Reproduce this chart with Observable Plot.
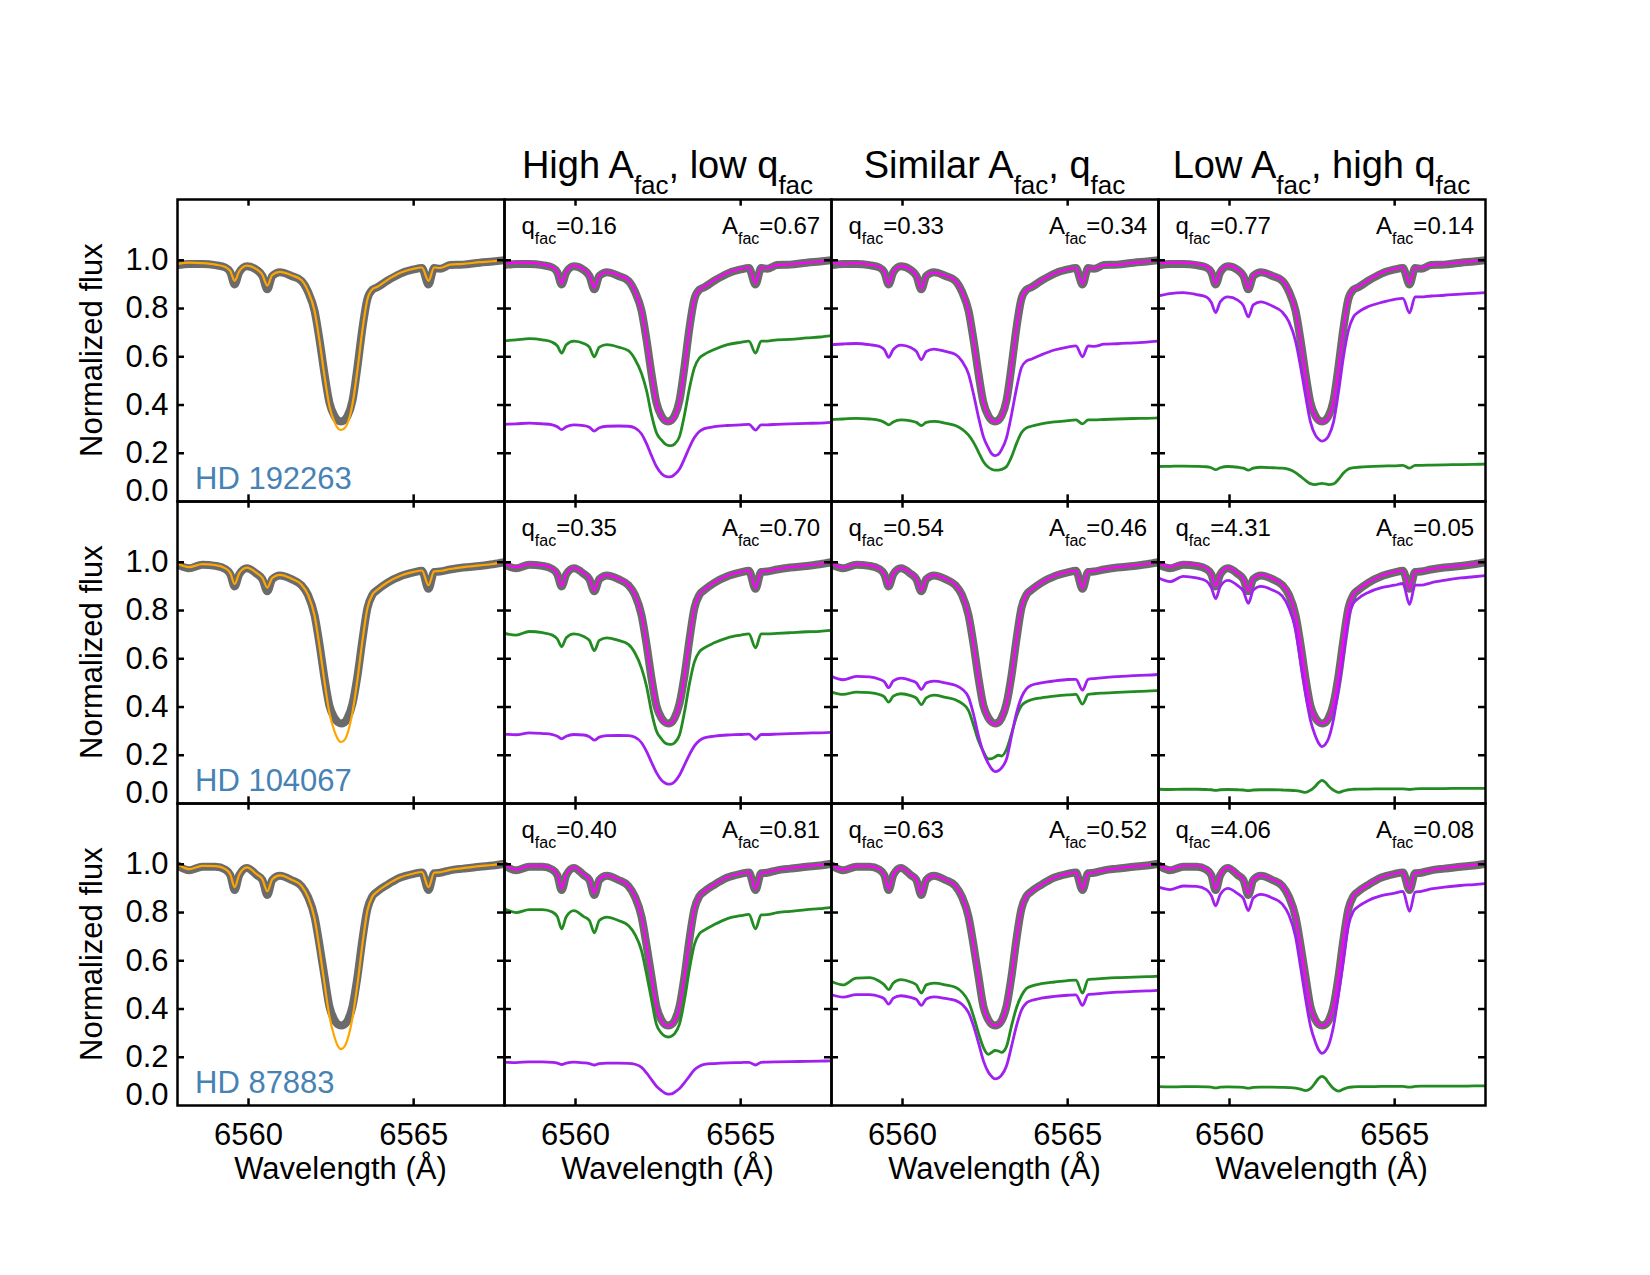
<!DOCTYPE html>
<html>
<head>
<meta charset="utf-8">
<script src="https://cdn.jsdelivr.net/npm/d3@7"></script>
<script src="https://cdn.jsdelivr.net/npm/@observablehq/plot@0.6"></script>
<style>
  html, body { margin: 0; padding: 0; background: #fff; }
  svg { display: block; }
</style>
</head>
<body>
<div id="chart"></div>
<script>
// Wavelength grid (Å) shared by every spectrum around H-alpha
const wavelength = [6557.85, 6558.2, 6558.6, 6559.0, 6559.3, 6559.45, 6559.58, 6559.72, 6559.95, 6560.25,
  6560.42, 6560.57, 6560.72, 6560.95, 6561.3, 6561.6, 6561.8, 6562.0, 6562.15, 6562.3,
  6562.45, 6562.6, 6562.7, 6562.8, 6562.9, 6563.0, 6563.15, 6563.3, 6563.45, 6563.6,
  6563.75, 6563.9, 6564.2, 6564.6, 6565.0, 6565.25, 6565.45, 6565.62, 6565.8, 6566.1,
  6566.5, 6567.0, 6567.4, 6567.75];

const stars = ["HD 192263", "HD 104067", "HD 87883"];
const panels = ["fit", "high", "similar", "low"];

// Column headings, as [text, subscript?] pieces
const titleHigh = [["High A", 0], ["fac", 1], [", low q", 0], ["fac", 1]];
const titleSimilar = [["Similar A", 0], ["fac", 1], [", q", 0], ["fac", 1]];
const titleLow = [["Low A", 0], ["fac", 1], [", high q", 0], ["fac", 1]];

// Fitted facular parameters per star for the high / similar / low columns
const qfac192263 = [0.16, 0.33, 0.77];
const afac192263 = [0.67, 0.34, 0.14];
const qfac104067 = [0.35, 0.54, 4.31];
const afac104067 = [0.70, 0.46, 0.05];
const qfac87883 = [0.40, 0.63, 4.06];
const afac87883 = [0.81, 0.52, 0.08];

const xTicks = [6560, 6565];
const yTicks = [0.2, 0.4, 0.6, 0.8, 1.0];

// ---- HD 192263 ----
const obs192263 = [0.980,0.985,0.985,0.980,0.970,0.950,0.900,0.950,0.975,0.960,0.935,0.880,0.935,0.950,0.935,0.915,0.870,0.790,0.670,0.530,0.410,0.355,0.337,0.332,0.337,0.355,0.420,0.560,0.720,0.840,0.878,0.888,0.915,0.945,0.962,0.968,0.900,0.968,0.965,0.980,0.982,0.990,0.995,1.000];
const fit192263 = [0.985,0.990,0.988,0.982,0.972,0.955,0.915,0.955,0.978,0.962,0.940,0.895,0.940,0.952,0.938,0.918,0.872,0.790,0.665,0.520,0.395,0.330,0.305,0.297,0.303,0.325,0.405,0.548,0.712,0.838,0.880,0.890,0.918,0.948,0.965,0.970,0.915,0.970,0.968,0.982,0.985,0.992,0.996,1.002];
const total192263High = [0.985,0.990,0.990,0.983,0.972,0.953,0.905,0.953,0.978,0.962,0.938,0.885,0.938,0.952,0.938,0.918,0.872,0.790,0.668,0.528,0.410,0.352,0.335,0.330,0.333,0.350,0.415,0.555,0.718,0.838,0.878,0.890,0.918,0.948,0.965,0.970,0.905,0.970,0.968,0.980,0.983,0.990,0.995,1.002];
const fac192263High = [0.667,0.670,0.675,0.670,0.660,0.645,0.615,0.650,0.665,0.655,0.640,0.600,0.640,0.650,0.640,0.625,0.590,0.530,0.460,0.360,0.285,0.255,0.240,0.233,0.232,0.238,0.270,0.360,0.470,0.555,0.595,0.610,0.630,0.650,0.660,0.665,0.615,0.665,0.665,0.670,0.672,0.678,0.682,0.688];
const quiet192263High = [0.320,0.322,0.325,0.322,0.318,0.310,0.298,0.310,0.318,0.315,0.308,0.292,0.306,0.312,0.313,0.312,0.305,0.280,0.240,0.190,0.145,0.116,0.106,0.102,0.103,0.112,0.135,0.178,0.225,0.265,0.290,0.302,0.310,0.315,0.318,0.320,0.296,0.318,0.318,0.320,0.322,0.324,0.325,0.328];
const total192263Similar = [0.990,0.985,0.988,0.982,0.972,0.952,0.902,0.952,0.976,0.960,0.936,0.882,0.936,0.950,0.936,0.916,0.870,0.788,0.668,0.530,0.412,0.355,0.336,0.330,0.334,0.352,0.418,0.558,0.720,0.840,0.878,0.888,0.916,0.946,0.963,0.968,0.902,0.968,0.966,0.980,0.982,0.990,0.995,1.000];
const fac192263Similar = [0.340,0.342,0.345,0.342,0.336,0.328,0.318,0.330,0.338,0.334,0.328,0.315,0.328,0.332,0.325,0.315,0.300,0.275,0.245,0.205,0.165,0.142,0.134,0.130,0.130,0.133,0.145,0.185,0.240,0.285,0.305,0.312,0.322,0.330,0.335,0.338,0.322,0.338,0.338,0.340,0.342,0.344,0.345,0.347];
const quiet192263Similar = [0.650,0.653,0.655,0.650,0.643,0.630,0.598,0.630,0.648,0.638,0.622,0.588,0.622,0.632,0.622,0.610,0.582,0.528,0.445,0.350,0.268,0.222,0.198,0.190,0.195,0.215,0.265,0.360,0.468,0.555,0.582,0.590,0.608,0.628,0.640,0.645,0.600,0.645,0.643,0.652,0.654,0.658,0.661,0.665];
const total192263Low = [0.988,0.990,0.990,0.985,0.975,0.952,0.902,0.955,0.978,0.962,0.938,0.882,0.938,0.952,0.938,0.918,0.872,0.790,0.668,0.528,0.408,0.350,0.334,0.328,0.332,0.350,0.415,0.555,0.718,0.840,0.880,0.890,0.918,0.948,0.965,0.970,0.905,0.970,0.968,0.982,0.985,0.992,0.996,1.002];
const fac192263Low = [0.145,0.146,0.147,0.146,0.144,0.140,0.132,0.140,0.145,0.142,0.138,0.130,0.138,0.142,0.140,0.138,0.133,0.120,0.104,0.088,0.074,0.070,0.073,0.075,0.073,0.070,0.073,0.092,0.118,0.135,0.140,0.142,0.145,0.147,0.148,0.150,0.138,0.150,0.150,0.151,0.152,0.153,0.154,0.155];
const quiet192263Low = [0.852,0.862,0.866,0.858,0.848,0.825,0.783,0.828,0.848,0.835,0.812,0.765,0.815,0.828,0.810,0.785,0.745,0.665,0.560,0.440,0.330,0.275,0.258,0.250,0.255,0.272,0.330,0.455,0.600,0.710,0.765,0.785,0.808,0.825,0.838,0.842,0.782,0.848,0.848,0.852,0.855,0.860,0.863,0.866];

// ---- HD 104067 ----
const obs104067 = [0.990,0.975,0.990,0.985,0.972,0.950,0.900,0.950,0.975,0.952,0.930,0.880,0.930,0.945,0.930,0.905,0.865,0.780,0.660,0.520,0.405,0.355,0.338,0.332,0.336,0.355,0.415,0.530,0.680,0.810,0.865,0.885,0.915,0.942,0.958,0.965,0.890,0.960,0.962,0.970,0.978,0.985,0.992,1.000];
const fit104067 = [0.995,0.980,0.992,0.988,0.975,0.955,0.910,0.955,0.978,0.955,0.935,0.895,0.935,0.948,0.932,0.908,0.866,0.778,0.650,0.505,0.375,0.300,0.268,0.255,0.262,0.292,0.380,0.515,0.675,0.810,0.866,0.886,0.916,0.944,0.960,0.966,0.905,0.962,0.964,0.972,0.980,0.987,0.993,1.002];
const total104067High = [0.993,0.980,0.992,0.988,0.975,0.952,0.903,0.952,0.977,0.955,0.933,0.883,0.933,0.947,0.932,0.907,0.866,0.780,0.660,0.522,0.405,0.352,0.335,0.330,0.334,0.352,0.412,0.528,0.680,0.810,0.866,0.886,0.916,0.944,0.960,0.966,0.893,0.962,0.964,0.972,0.980,0.987,0.993,1.002];
const fac104067High = [0.705,0.698,0.713,0.708,0.698,0.682,0.650,0.687,0.703,0.692,0.676,0.634,0.676,0.687,0.676,0.660,0.624,0.560,0.486,0.380,0.301,0.268,0.252,0.246,0.245,0.252,0.285,0.380,0.497,0.587,0.629,0.645,0.666,0.687,0.698,0.703,0.645,0.703,0.703,0.705,0.708,0.712,0.714,0.718];
const quiet104067High = [0.288,0.285,0.293,0.290,0.286,0.279,0.268,0.279,0.286,0.284,0.277,0.263,0.275,0.281,0.282,0.281,0.275,0.252,0.216,0.171,0.128,0.097,0.086,0.080,0.081,0.090,0.118,0.160,0.203,0.239,0.261,0.272,0.279,0.284,0.286,0.288,0.266,0.286,0.286,0.288,0.290,0.292,0.293,0.295];
const total104067Similar = [0.995,0.978,0.992,0.988,0.974,0.950,0.902,0.952,0.976,0.954,0.932,0.882,0.932,0.947,0.932,0.906,0.866,0.780,0.662,0.522,0.406,0.352,0.334,0.328,0.333,0.352,0.412,0.528,0.680,0.810,0.866,0.886,0.916,0.944,0.960,0.966,0.892,0.962,0.964,0.972,0.980,0.987,0.993,1.002];
const fac104067Similar = [0.462,0.452,0.462,0.460,0.452,0.442,0.420,0.445,0.455,0.447,0.437,0.410,0.438,0.449,0.440,0.430,0.415,0.385,0.325,0.260,0.215,0.185,0.186,0.193,0.200,0.197,0.225,0.290,0.360,0.405,0.422,0.430,0.438,0.445,0.450,0.452,0.412,0.452,0.455,0.458,0.461,0.464,0.466,0.468];
const quiet104067Similar = [0.527,0.513,0.527,0.525,0.515,0.505,0.480,0.508,0.520,0.510,0.500,0.473,0.500,0.507,0.500,0.490,0.475,0.440,0.370,0.280,0.210,0.165,0.143,0.132,0.136,0.148,0.185,0.280,0.375,0.440,0.475,0.490,0.500,0.508,0.514,0.515,0.470,0.515,0.518,0.522,0.526,0.530,0.532,0.535];
const total104067Low = [0.998,0.982,0.995,0.990,0.976,0.952,0.902,0.953,0.978,0.955,0.933,0.882,0.934,0.948,0.933,0.907,0.867,0.781,0.661,0.522,0.405,0.352,0.336,0.333,0.336,0.353,0.412,0.528,0.680,0.812,0.867,0.887,0.916,0.944,0.960,0.966,0.892,0.962,0.964,0.972,0.980,0.987,0.993,1.002];
const fac104067Low = [0.059,0.058,0.059,0.059,0.058,0.057,0.054,0.057,0.058,0.057,0.056,0.053,0.056,0.057,0.057,0.056,0.055,0.053,0.050,0.046,0.055,0.072,0.087,0.096,0.088,0.072,0.055,0.046,0.052,0.057,0.059,0.060,0.060,0.061,0.061,0.061,0.058,0.061,0.062,0.062,0.062,0.063,0.063,0.063];
const quiet104067Low = [0.935,0.920,0.942,0.935,0.922,0.895,0.849,0.900,0.925,0.903,0.880,0.830,0.885,0.900,0.885,0.860,0.810,0.720,0.590,0.460,0.345,0.280,0.250,0.236,0.245,0.270,0.350,0.480,0.620,0.770,0.830,0.850,0.875,0.895,0.905,0.912,0.825,0.905,0.905,0.915,0.925,0.935,0.940,0.945];

// ---- HD 87883 ----
const obs87883 = [0.995,0.975,0.990,0.990,0.978,0.955,0.893,0.955,0.985,0.955,0.935,0.873,0.935,0.952,0.935,0.910,0.865,0.782,0.665,0.535,0.410,0.355,0.337,0.332,0.336,0.352,0.412,0.535,0.690,0.815,0.868,0.887,0.915,0.945,0.960,0.966,0.893,0.963,0.965,0.975,0.982,0.990,0.995,1.002];
const fit87883 = [1.000,0.980,0.993,0.992,0.980,0.958,0.905,0.958,0.987,0.958,0.938,0.888,0.938,0.954,0.936,0.911,0.864,0.775,0.648,0.505,0.370,0.285,0.248,0.234,0.243,0.275,0.365,0.505,0.670,0.808,0.866,0.887,0.916,0.946,0.962,0.968,0.905,0.965,0.967,0.977,0.984,0.992,0.997,1.004];
const total87883High = [0.998,0.978,0.993,0.993,0.980,0.958,0.900,0.958,0.987,0.958,0.938,0.880,0.938,0.954,0.937,0.912,0.867,0.783,0.665,0.532,0.410,0.352,0.335,0.330,0.334,0.350,0.410,0.533,0.690,0.815,0.868,0.888,0.916,0.946,0.962,0.968,0.898,0.965,0.967,0.977,0.984,0.992,0.997,1.004];
const fac87883High = [0.816,0.800,0.812,0.812,0.802,0.783,0.732,0.783,0.808,0.783,0.767,0.716,0.767,0.781,0.767,0.746,0.709,0.641,0.545,0.439,0.336,0.300,0.288,0.284,0.287,0.298,0.338,0.439,0.566,0.668,0.712,0.727,0.750,0.775,0.787,0.792,0.732,0.790,0.791,0.800,0.805,0.812,0.816,0.822];
const quiet87883High = [0.180,0.178,0.181,0.181,0.179,0.176,0.170,0.176,0.180,0.177,0.174,0.168,0.174,0.176,0.176,0.175,0.171,0.158,0.135,0.107,0.080,0.062,0.052,0.047,0.048,0.055,0.070,0.095,0.122,0.148,0.163,0.170,0.174,0.177,0.178,0.179,0.168,0.179,0.180,0.181,0.182,0.183,0.184,0.185];
const total87883Similar = [0.997,0.977,0.992,0.992,0.979,0.956,0.897,0.956,0.986,0.957,0.937,0.877,0.937,0.953,0.936,0.911,0.866,0.782,0.665,0.533,0.410,0.353,0.336,0.331,0.335,0.351,0.411,0.534,0.690,0.815,0.868,0.887,0.915,0.945,0.961,0.967,0.896,0.964,0.966,0.976,0.983,0.991,0.996,1.003];
const fac87883Similar = [0.514,0.500,0.528,0.530,0.515,0.500,0.480,0.508,0.522,0.512,0.500,0.466,0.500,0.507,0.500,0.490,0.470,0.430,0.370,0.300,0.240,0.212,0.220,0.228,0.226,0.220,0.245,0.330,0.405,0.455,0.485,0.495,0.505,0.512,0.518,0.520,0.466,0.522,0.524,0.527,0.530,0.532,0.534,0.536];
const quiet87883Similar = [0.459,0.449,0.460,0.460,0.452,0.442,0.420,0.445,0.455,0.448,0.440,0.415,0.442,0.450,0.444,0.436,0.420,0.385,0.330,0.260,0.185,0.138,0.120,0.110,0.114,0.126,0.165,0.245,0.330,0.395,0.425,0.435,0.445,0.452,0.457,0.459,0.415,0.460,0.462,0.466,0.470,0.473,0.475,0.477];
const total87883Low = [0.999,0.979,0.994,0.994,0.981,0.957,0.898,0.957,0.988,0.958,0.938,0.878,0.938,0.954,0.937,0.912,0.866,0.782,0.665,0.533,0.410,0.353,0.336,0.331,0.335,0.351,0.411,0.534,0.690,0.816,0.869,0.888,0.916,0.946,0.962,0.968,0.897,0.965,0.967,0.977,0.984,0.992,0.997,1.004];
const fac87883Low = [0.078,0.077,0.078,0.078,0.077,0.076,0.073,0.076,0.077,0.076,0.075,0.072,0.075,0.076,0.076,0.075,0.074,0.072,0.068,0.062,0.070,0.095,0.113,0.121,0.113,0.094,0.070,0.060,0.068,0.075,0.077,0.078,0.078,0.079,0.079,0.079,0.076,0.079,0.080,0.080,0.080,0.080,0.081,0.081];
const quiet87883Low = [0.905,0.895,0.910,0.908,0.895,0.870,0.828,0.875,0.900,0.878,0.858,0.808,0.860,0.875,0.860,0.835,0.790,0.700,0.575,0.445,0.330,0.262,0.230,0.216,0.225,0.250,0.330,0.460,0.600,0.745,0.805,0.825,0.850,0.870,0.880,0.888,0.805,0.885,0.888,0.898,0.905,0.912,0.916,0.920];

// ---- assemble the table of spectra ----
const rowSets = [
  {star: stars[0], obs: obs192263, fit: fit192263, q: qfac192263, a: afac192263,
   total: [total192263High, total192263Similar, total192263Low],
   fac: [fac192263High, fac192263Similar, fac192263Low],
   quiet: [quiet192263High, quiet192263Similar, quiet192263Low]},
  {star: stars[1], obs: obs104067, fit: fit104067, q: qfac104067, a: afac104067,
   total: [total104067High, total104067Similar, total104067Low],
   fac: [fac104067High, fac104067Similar, fac104067Low],
   quiet: [quiet104067High, quiet104067Similar, quiet104067Low]},
  {star: stars[2], obs: obs87883, fit: fit87883, q: qfac87883, a: afac87883,
   total: [total87883High, total87883Similar, total87883Low],
   fac: [fac87883High, fac87883Similar, fac87883Low],
   quiet: [quiet87883High, quiet87883Similar, quiet87883Low]}
];

const spectra = [];
for (const r of rowSets) {
  spectra.push({star: r.star, panel: "fit", kind: "observed", flux: r.obs});
  spectra.push({star: r.star, panel: "fit", kind: "fit", flux: r.fit});
  panels.slice(1).forEach((p, j) => {
    spectra.push({star: r.star, panel: p, kind: "observed", flux: r.obs});
    spectra.push({star: r.star, panel: p, kind: "facular", flux: r.fac[j]});
    spectra.push({star: r.star, panel: p, kind: "quiet", flux: r.quiet[j]});
    spectra.push({star: r.star, panel: p, kind: "total", flux: r.total[j]});
  });
}
const points = spectra.flatMap(s => s.flux.map((f, i) => ({
  star: s.star, panel: s.panel, kind: s.kind, wl: wavelength[i], flux: f
})));

const lineStyle = {
  observed: {stroke: "#6b6b6b", width: 8},
  fit:      {stroke: "#ffa500", width: 2.2},
  facular:  {stroke: "#228b22", width: 2.8},
  quiet:    {stroke: "#a020f0", width: 2.8},
  total:    {stroke: "#ff00ff", width: 2.2}
};
const drawOrder = ["observed", "fit", "facular", "quiet", "total"];

const W = 1650, H = 1275;
const mL = 177, mR = 165, mT = 198, mB = 170;
const fw = (W - mL - mR) / panels.length;
const fh = (H - mT - mB) / stars.length;
const tickLen = 7;
const font = "'Liberation Sans', Arial, Helvetica, sans-serif";

const chart = Plot.plot({
  width: W, height: H,
  marginLeft: mL, marginRight: mR, marginTop: mT, marginBottom: mB,
  style: {fontFamily: font, fontSize: "31px", color: "#000", background: "#fff"},
  fx: {domain: panels, padding: 0, axis: null},
  fy: {domain: stars, padding: 0, axis: null},
  x: {domain: [6557.85, 6567.75]},
  y: {domain: [0, 1.252]},
  marks: [
    ...drawOrder.map(k => Plot.line(points.filter(d => d.kind === k), {
      x: "wl", y: "flux", fx: "panel", fy: "star",
      stroke: lineStyle[k].stroke, strokeWidth: lineStyle[k].width,
      curve: "monotone-x", strokeLinejoin: "round", strokeLinecap: "round", clip: true
    })),
    Plot.frame({stroke: "#000", strokeWidth: 2.5}),
    // inward ticks on all four sides of every panel
    Plot.ruleX(xTicks, {stroke: "#000", strokeWidth: 2.5, insetTop: fh - tickLen}),
    Plot.ruleX(xTicks, {stroke: "#000", strokeWidth: 2.5, insetBottom: fh - tickLen}),
    Plot.ruleY(yTicks, {stroke: "#000", strokeWidth: 2.5, insetRight: fw - tickLen}),
    Plot.ruleY(yTicks, {stroke: "#000", strokeWidth: 2.5, insetLeft: fw - tickLen}),
    Plot.axisX(xTicks, {anchor: "bottom", facetAnchor: "bottom", tickSize: 0, tickPadding: 17,
      fontSize: 31, label: null, tickFormat: d => `${d}`}),
    Plot.axisY(yTicks, {anchor: "left", facetAnchor: "left", tickSize: 0, tickPadding: 9,
      fontSize: 31, label: null, tickFormat: d3.format(".1f")}),
    Plot.axisY([0], {anchor: "left", facetAnchor: "left", tickSize: 0, tickPadding: 9,
      fontSize: 31, label: null, tickFormat: d3.format(".1f"), dy: -10})
  ]
});

document.getElementById("chart").append(chart);

// ---- text with subscripts, placed from the facet scales ----
const fxScale = chart.scale("fx");
const fyScale = chart.scale("fy");
const svg = d3.select(chart);
const labels = svg.append("g")
  .attr("font-family", font)
  .attr("fill", "#000")
  .attr("text-anchor", "start")
  .style("white-space", "pre");

function richText(pieces, x, y, size, subSize, drop, anchor) {
  const t = labels.append("text")
    .attr("x", x).attr("y", y)
    .attr("font-size", size)
    .attr("text-anchor", anchor);
  let low = false;
  for (const [str, sub] of pieces) {
    const ts = t.append("tspan").text(str).attr("font-size", sub ? subSize : size);
    if (sub && !low) { ts.attr("dy", drop); low = true; }
    else if (!sub && low) { ts.attr("dy", -drop); low = false; }
  }
  return t;
}

const colLeft = p => fxScale.apply(p);
const rowTop = s => fyScale.apply(s);
const topY = rowTop(stars[0]);
const bottomY = rowTop(stars[stars.length - 1]) + fh;
const fmt2 = d3.format(".2f");

// column headings
[titleHigh, titleSimilar, titleLow].forEach((t, j) => {
  const x0 = colLeft(panels[j + 1]);
  richText(t, x0 + fw / 2, topY - 21, 38, 26, 16, "middle");
});

rowSets.forEach(r => {
  const y0 = rowTop(r.star);
  // star name in the first panel
  labels.append("text")
    .attr("x", colLeft("fit") + 18).attr("y", y0 + fh - 12)
    .attr("text-anchor", "start")
    .attr("font-size", 31).attr("fill", "#4682b4")
    .text(r.star);
  // fitted parameters
  panels.slice(1).forEach((p, j) => {
    const x0 = colLeft(p);
    richText([["q", 0], ["fac", 1], ["=" + fmt2(r.q[j]), 0]], x0 + 17.5, y0 + 35, 24, 16, 10, "start");
    richText([["A", 0], ["fac", 1], ["=" + fmt2(r.a[j]), 0]], x0 + 218, y0 + 35, 24, 16, 10, "start");
  });
  // y axis title
  labels.append("text")
    .attr("transform", `translate(102,${y0 + fh / 2}) rotate(-90)`)
    .attr("text-anchor", "middle")
    .attr("font-size", 31)
    .text("Normalized flux");
});

// x axis titles
panels.forEach(p => {
  labels.append("text")
    .attr("x", colLeft(p) + fw / 2).attr("y", bottomY + 74)
    .attr("text-anchor", "middle")
    .attr("font-size", 31)
    .text("Wavelength (Å)");
});
</script>
</body>
</html>
